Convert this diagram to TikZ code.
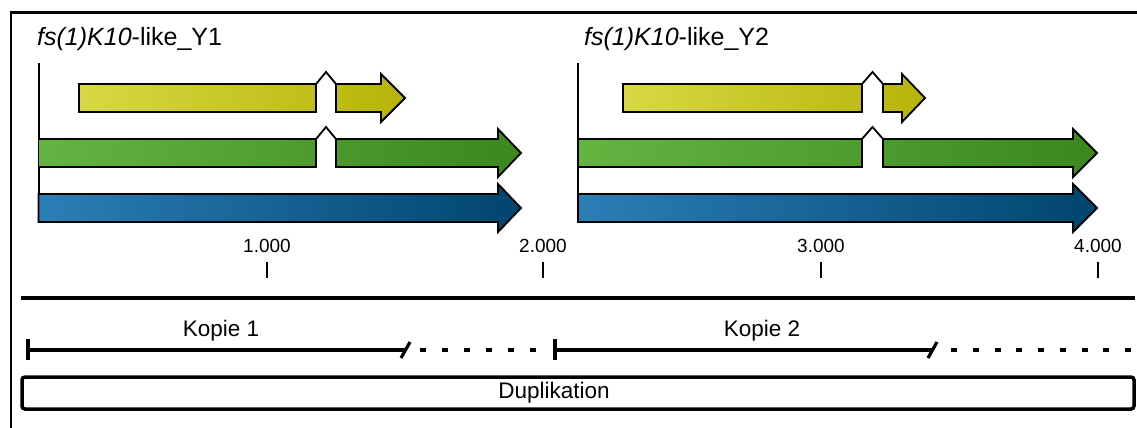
\documentclass[tikz,border=0pt]{standalone}
\usepackage{fontspec}
\setmainfont{Liberation Sans}
\usepackage{tikz}

\definecolor{ylwL}{HTML}{D8D844}
\definecolor{ylwR}{HTML}{B6B408}
\definecolor{grnL}{HTML}{64B442}
\definecolor{grnR}{HTML}{3A881E}
\definecolor{bluL}{HTML}{2C7EB6}
\definecolor{bluR}{HTML}{00456E}

\tikzset{
  exonline/.style={line width=1.8pt,line join=miter},
  tickmark/.style={line width=2.2pt},
  spanline/.style={line width=3.2pt},
  dotline/.style={line width=3.5pt,dash pattern=on 6pt off 16pt},
  bigfont/.style={font=\fontsize{22.5}{27}\selectfont},
  genefont/.style={font=\fontsize{25}{30}\selectfont},
  numfont/.style={font=\fontsize{19}{22}\selectfont}
}

\begin{document}
\begin{tikzpicture}[x=1pt,y=-1pt]
  \useasboundingbox (0,0) rectangle (1137,428);
  % frame
  \draw[line width=2.5pt] (1137,12.5) -- (11,12.5) -- (11,428);

  % gene labels and left axes
  \node[genefont,anchor=base west,inner sep=0pt] (lblA) at (37,46) {\itshape fs(1)K10\upshape-like\_Y1};
  \node[genefont,anchor=base west,inner sep=0pt] (lblB) at (584,46) {\itshape fs(1)K10\upshape-like\_Y2};
  \draw[line width=2pt] (38.5,63) -- (38.5,222);
  \draw[line width=2pt] (578,63) -- (578,222);

  % split transcripts (two exons with intron)
  \foreach \xa/\xc/\xr/\xh/\xt/\yc/\cl/\cr in {
      79/316/336/381/405/98/ylwL/ylwR,
      38.5/316/336/498/521/153/grnL/grnR,
      623/862/883/902/925/98/ylwL/ylwR,
      578/862/883/1073/1097/153/grnL/grnR}{
    \shade[left color=\cl,right color=\cr]
      (\xa,\yc-14) rectangle (\xc,\yc+14)
      (\xr,\yc-14) -- (\xh,\yc-14) -- (\xh,\yc-24) -- (\xt,\yc)
        -- (\xh,\yc+24) -- (\xh,\yc+14) -- (\xr,\yc+14) -- cycle;
    \draw[exonline] (\xa,\yc-14) rectangle (\xc,\yc+14);
    \draw[exonline] (\xr,\yc-14) -- (\xh,\yc-14) -- (\xh,\yc-24) -- (\xt,\yc)
        -- (\xh,\yc+24) -- (\xh,\yc+14) -- (\xr,\yc+14) -- cycle;
    \draw[exonline] (\xc,\yc-14) -- ({(\xc+\xr)/2},\yc-26) -- (\xr,\yc-14);
  }

  % unspliced transcripts
  \foreach \xa/\xh/\xt in {38.5/498/521, 578/1073/1097}{
    \shade[left color=bluL,right color=bluR]
      (\xa,194) -- (\xh,194) -- (\xh,184) -- (\xt,208) -- (\xh,232)
        -- (\xh,222) -- (\xa,222) -- cycle;
    \draw[exonline] (\xa,194) -- (\xh,194) -- (\xh,184) -- (\xt,208) -- (\xh,232)
        -- (\xh,222) -- (\xa,222) -- cycle;
  }

  % scale
  \foreach \xp/\txt in {267/1.000, 543/2.000, 821/3.000, 1098/4.000}{
    \node[numfont,anchor=base,inner sep=0pt] at (\xp,252) {\txt};
    \draw[tickmark] (\xp,262) -- (\xp,278);
  }
  \draw[line width=4pt] (21,298) -- (1135,298);

  % copies
  \node[bigfont,anchor=base,inner sep=0pt] (kop1) at (221,336) {Kopie 1};
  \node[bigfont,anchor=base,inner sep=0pt] (kop2) at (762,336) {Kopie 2};
  \coordinate (k1a) at (28,350);
  \coordinate (k1b) at (405,350);
  \coordinate (k2a) at (555,350);
  \coordinate (k2b) at (932,350);
  \draw[spanline] (k1a) -- (k1b);
  \draw[spanline] ([yshift=-10pt]k1a) -- ([yshift=11pt]k1a);
  \draw[spanline] (401,358) -- (410,342);
  \draw[dotline] (420,350) -- (537,350);
  \draw[spanline] (k2a) -- (k2b);
  \draw[spanline] ([yshift=-10pt]k2a) -- ([yshift=11pt]k2a);
  \draw[spanline] (928,358) -- (937,342);
  \draw[dotline,dash pattern=on 6pt off 15.75pt] (951,350) -- (1133,350);

  % duplication
  \draw[line width=3.5pt,rounded corners=3pt] (22,377) rectangle (1134,409);
  \node[bigfont,inner sep=0pt] (dup) at (554,393) {Duplikation};
\end{tikzpicture}
\end{document}
